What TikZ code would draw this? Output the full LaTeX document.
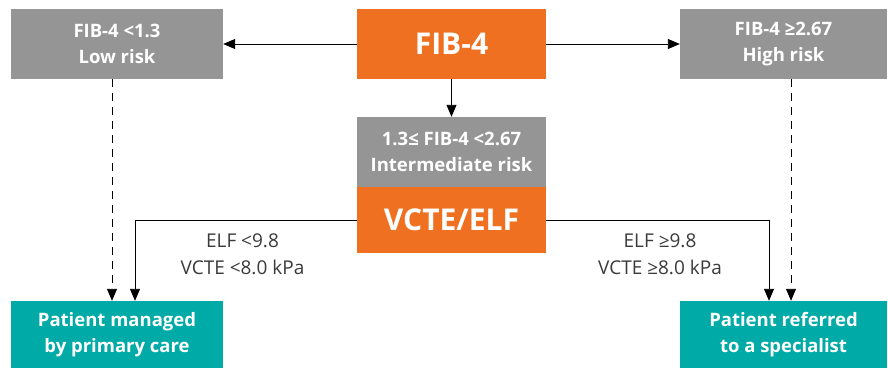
\documentclass[tikz,border=0pt]{standalone}
\usepackage{fontspec}
\setmainfont{Open Sans}
\usetikzlibrary{arrows.meta}
\definecolor{boxgray}{HTML}{959595}
\definecolor{boxorange}{HTML}{F07022}
\definecolor{boxteal}{HTML}{00AAA6}
\definecolor{labeltext}{HTML}{3A3A3A}
\begin{document}
\begin{tikzpicture}[x=1pt,y=-1pt,
  box/.style={draw=none, inner sep=0pt, text=white, align=center,
    font=\bfseries\fontsize{18.5}{26}\selectfont},
  graybox/.style={box, fill=boxgray},
  orangebox/.style={box, fill=boxorange, font=\bfseries\fontsize{30}{34}\selectfont},
  tealbox/.style={box, fill=boxteal},
  arr/.style={draw=black, line width=0.9pt, -{Triangle[length=12pt,width=10pt]}},
  dasharr/.style={arr, dash pattern=on 8pt off 6pt},
  lbl/.style={text=labeltext, align=center, font=\fontsize{19}{27}\selectfont}]
\useasboundingbox (0,0) rectangle (888,369);
\node[graybox, minimum width=212pt, minimum height=70pt] (low) at (117,44) {FIB-4 <1.3\\Low risk};
\node[orangebox, minimum width=189pt, minimum height=70pt] (fib) at (451.5,44) {FIB-4};
\node[graybox, minimum width=207pt, minimum height=70pt] (high) at (783.5,44) {FIB-4 ≥2.67\\High risk};
\node[graybox, minimum width=189pt, minimum height=70pt] (inter) at (451.5,152) {1.3≤ FIB-4 <2.67\\Intermediate risk};
\node[orangebox, minimum width=189pt, minimum height=66pt] (vcte) at (451.5,220) {VCTE/ELF};
\node[tealbox, minimum width=212pt, minimum height=67pt] (pmc) at (117,334.5) {Patient managed\\by primary care};
\node[tealbox, minimum width=207pt, minimum height=67pt] (psp) at (783.5,334.5) {Patient referred\\to a specialist};
\draw[arr] (fib) -- (low);
\draw[arr] (fib) -- (high);
\draw[arr] (fib) -- (inter);
\draw[dasharr] ([xshift=-5pt]low.south) -- ([xshift=-5pt]low.south |- pmc.north);
\draw[dasharr] ([xshift=7.5pt]high.south) -- ([xshift=7.5pt]high.south |- psp.north);
\draw[arr] (vcte.west) -| ([xshift=18pt]pmc.north);
\draw[arr] (vcte.east) -| ([xshift=-14.5pt]psp.north);
\node[lbl] (lleft) at (242.5,254) {ELF <9.8\\VCTE <8.0 kPa};
\node[lbl] (lright) at (660,254) {ELF ≥9.8\\VCTE ≥8.0 kPa};
\end{tikzpicture}
\end{document}
